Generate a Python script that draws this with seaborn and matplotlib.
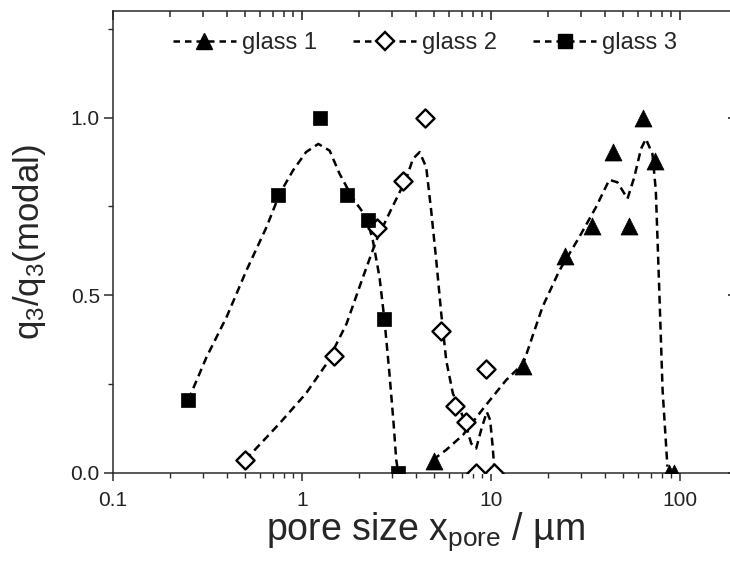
import matplotlib
matplotlib.use('Agg')
import matplotlib.pyplot as plt
from matplotlib.lines import Line2D
import seaborn as sns

# measured points
g1_x = [4.96, 14.8, 24.5, 34.2, 44.2, 53.9, 63.7, 74.0, 87.0, 93.0]
g1_y = [0.034, 0.30, 0.612, 0.694, 0.904, 0.694, 1.0, 0.879, 0.0, 0.0]
g2_x = [0.50, 1.48, 2.49, 3.44, 4.47, 5.43, 6.43, 7.41, 8.36, 9.37, 10.4]
g2_y = [0.037, 0.33, 0.689, 0.823, 1.0, 0.399, 0.188, 0.144, 0.0, 0.294, 0.0]
g3_x = [0.25, 0.745, 1.24, 1.73, 2.22, 2.72, 3.23]
g3_y = [0.205, 0.783, 1.0, 0.781, 0.713, 0.433, 0.0]

# smoothed curves
g1_cx = [4.92, 5.79, 7.1, 9.23, 12.0, 14.8, 18.7, 23.0, 29.3, 35.9, 42.2, 46.6, 52.7,
         57.2, 62.1, 65.9, 71.4, 74.4, 77.6, 80.8, 85.7]
g1_cy = [0.037, 0.065, 0.107, 0.186, 0.261, 0.308, 0.467, 0.570, 0.664, 0.748, 0.825,
         0.818, 0.772, 0.832, 0.912, 0.940, 0.898, 0.795, 0.514, 0.233, 0.018]
g2_cx = [0.50, 0.551, 0.762, 1.05, 1.35, 1.72, 2.10, 2.47, 2.97, 3.56, 3.86, 4.19, 4.54,
         4.82, 5.13, 5.45, 5.79, 6.28, 7.23, 7.85, 8.34, 8.86, 9.49, 9.89, 10.2, 10.4]
g2_cy = [0.037, 0.06, 0.14, 0.224, 0.308, 0.42, 0.551, 0.654, 0.743, 0.828, 0.884, 0.903,
         0.86, 0.739, 0.598, 0.449, 0.317, 0.224, 0.149, 0.083, 0.069, 0.121, 0.172,
         0.149, 0.074, 0.013]
g3_cx = [0.25, 0.313, 0.399, 0.508, 0.649, 0.762, 0.895, 1.05, 1.22, 1.40, 1.58, 1.86,
         2.19, 2.37, 2.57, 2.73, 2.90, 3.05, 3.15, 3.23]
g3_cy = [0.205, 0.327, 0.439, 0.570, 0.692, 0.786, 0.851, 0.903, 0.926, 0.907, 0.842,
         0.772, 0.72, 0.654, 0.551, 0.43, 0.28, 0.14, 0.037, 0.0]

x_ticks = [0.1, 1, 10, 100]
x_labels = ['0.1', '1', '10', '100']
x_minor = [m * d for d in (0.1, 1, 10, 100) for m in range(2, 10) if m * d <= 200]
y_ticks = [0.0, 0.5, 1.0]
y_labels = ['0.0', '0.5', '1.0']
y_minor = [0.25, 0.75, 1.25]

sns.set_theme(style='ticks')
plt.rcParams['font.family'] = ['Liberation Sans', 'DejaVu Sans']
plt.rcParams['mathtext.fontset'] = 'custom'
plt.rcParams['mathtext.rm'] = 'Liberation Sans'
plt.rcParams['mathtext.default'] = 'regular'

dash = (3.2, 2.0)
lw = 1.8
spine_c = '#2a2a2a'

fig = plt.figure(figsize=(7.3, 5.62), dpi=100)
ax = fig.add_axes([113 / 730, 1 - 473 / 562, (737 - 113) / 730, 462 / 562])

for cx, cy in [(g1_cx, g1_cy), (g2_cx, g2_cy), (g3_cx, g3_cy)]:
    sns.lineplot(x=cx, y=cy, sort=False, estimator=None, color='black',
                 linestyle='--', linewidth=lw, ax=ax)
    ax.lines[-1].set_dashes(dash)

sns.scatterplot(x=g1_x, y=g1_y, marker='^', s=150, color='black', edgecolor='black',
                linewidth=0.5, ax=ax, zorder=3)
sns.scatterplot(x=g2_x, y=g2_y, marker='D', s=85, color='white', edgecolor='black',
                linewidth=1.7, ax=ax, zorder=3)
sns.scatterplot(x=g3_x, y=g3_y, marker='s', s=110, color='black', edgecolor='black',
                linewidth=0.5, ax=ax, zorder=3)

ax.set_xscale('log')
ax.set_xlim(0.1, 200)
ax.set_ylim(0, 1.3)
ax.set_xticks(x_ticks)
ax.set_xticklabels(x_labels)
ax.set_xticks(x_minor, minor=True)
ax.set_yticks(y_ticks)
ax.set_yticklabels(y_labels)
ax.set_yticks(y_minor, minor=True)

for s in ax.spines.values():
    s.set_linewidth(1.1)
    s.set_color(spine_c)
ax.tick_params(axis='both', which='both', color=spine_c, labelcolor='#222222',
               top=False, right=False)
ax.tick_params(axis='both', which='major', labelsize=15, width=1.1)
ax.tick_params(axis='x', which='major', direction='out', length=6, pad=7)
ax.tick_params(axis='x', which='minor', direction='out', length=3.5, width=1.0)
ax.tick_params(axis='y', which='major', direction='out', length=6.5, pad=3)
ax.tick_params(axis='y', which='minor', direction='out', length=3.5, width=1.0)

# inward ticks on the top and right frame
h_px, w_px = 462, 624
xt = ax.get_xaxis_transform()
yt = ax.get_yaxis_transform()
ax.vlines(x_ticks, 1 - 9 / h_px, 1, transform=xt, color=spine_c, lw=1.2,
          clip_on=False, zorder=4)
ax.vlines(x_minor, 1 - 6 / h_px, 1, transform=xt, color=spine_c, lw=1.1,
          clip_on=False, zorder=4)
ax.hlines(y_ticks, 1 - 9 / w_px, 1, transform=yt, color=spine_c, lw=1.2,
          clip_on=False, zorder=4)
ax.hlines(y_minor, 1 - 6 / w_px, 1, transform=yt, color=spine_c, lw=1.1,
          clip_on=False, zorder=4)

ax.set_xlabel('pore size x$_{pore}$ / µm', fontsize=27, labelpad=0)
ax.set_ylabel('q$_3$/q$_3$(modal)', fontsize=25, labelpad=16)

handles = [
    Line2D([], [], color='black', linestyle='--', dashes=(2.6, 2.0), linewidth=lw,
           marker='^', markersize=12),
    Line2D([], [], color='black', linestyle='--', dashes=(2.6, 2.0), linewidth=lw,
           marker='D', markersize=9, markerfacecolor='white', markeredgewidth=1.7),
    Line2D([], [], color='black', linestyle='--', dashes=(2.6, 2.0), linewidth=lw,
           marker='s', markersize=10.5),
]
ax.legend(handles, ['glass 1', 'glass 2', 'glass 3'], loc='center',
          bbox_to_anchor=(0.5, 0.931), ncol=3, frameon=False, fontsize=17,
          handlelength=2.7, handletextpad=0.25, columnspacing=1.5, numpoints=1)

fig.savefig('out.png', dpi=100)
